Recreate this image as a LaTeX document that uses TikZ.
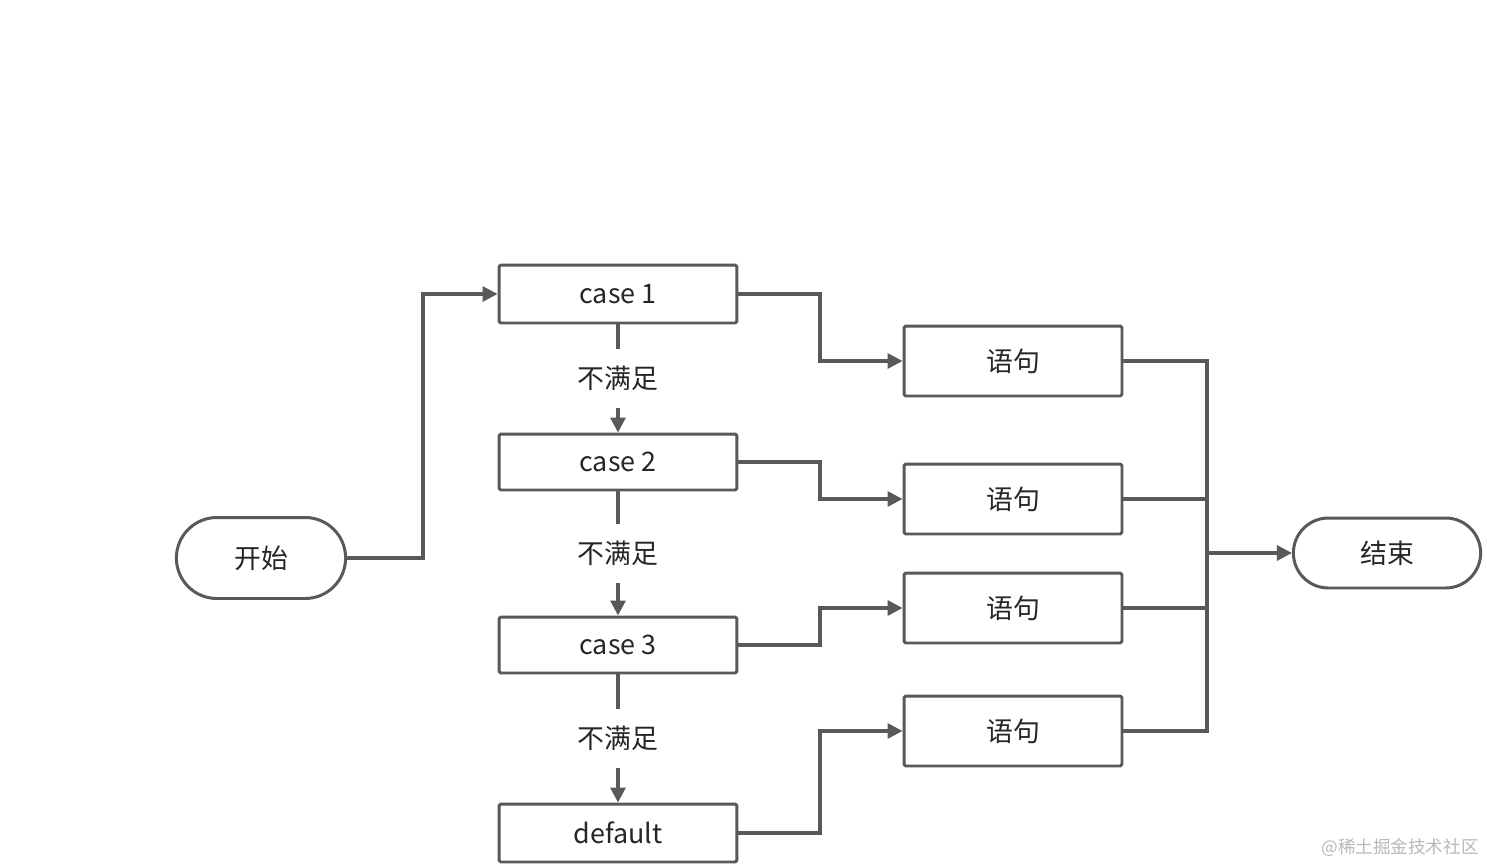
\documentclass[tikz,border=0pt]{standalone}
\usepackage{fontspec}
\setmainfont{Noto Sans CJK SC}
\usepackage{tikz}
\usetikzlibrary{arrows.meta, shapes.misc, positioning}
\definecolor{linegray}{HTML}{595959}
\definecolor{textdark}{HTML}{262626}

\begin{document}
\begin{tikzpicture}[
    x=0.02cm, y=-0.02cm,
    box/.style    = {rectangle, rounded corners=1pt, draw=linegray, line width=1.7pt,
                     fill=white, minimum width=4.76cm, text=textdark,
                     font=\fontsize{15.3}{18}\selectfont},
    stmt/.style   = {box, minimum width=4.36cm, minimum height=1.4cm},
    term/.style   = {rounded rectangle, draw=linegray, line width=1.7pt, fill=white,
                     text=textdark, font=\fontsize{15.3}{18}\selectfont},
    link/.style   = {draw=linegray, line width=1.8pt},
    arr/.style    = {link, -{Triangle[length=8.5pt, width=8.5pt]}},
    cond/.style   = {fill=white, inner xsep=2pt, inner ysep=10pt, text=textdark,
                     font=\fontsize{15.3}{18}\selectfont}
  ]

  % ── Frame ─────────────────────────────────────────────────────────────────
  \useasboundingbox[fill=white] (0,0) rectangle (1487,865);

  % ── Terminals ─────────────────────────────────────────────────────────────
  \node[term, minimum width=3.62cm, minimum height=1.62cm] (start) at (261,558) {开始};
  \node[term, minimum width=3.98cm, minimum height=1.4cm]  (end)   at (1387,553) {结束};

  % ── Cases ─────────────────────────────────────────────────────────────────
  \node[box, minimum height=1.16cm] (case1) at (618,294) {case 1};
  \node[box, minimum height=1.12cm] (case2) at (618,462) {case 2};
  \node[box, minimum height=1.12cm] (case3) at (618,645) {case 3};
  \node[box, minimum height=1.16cm] (dflt)  at (618,833) {default};

  % ── Statements ────────────────────────────────────────────────────────────
  \node[stmt] (stmt1) at (1013,361) {语句};
  \node[stmt] (stmt2) at (1013,499) {语句};
  \node[stmt] (stmt3) at (1013,608) {语句};
  \node[stmt] (stmt4) at (1013,731) {语句};

  \coordinate (fork) at (423,558);
  \coordinate (bend) at (820,558);
  \coordinate (join) at (1207,553);

  % ── Start to first case ──────────────────────────────────────────────────
  \draw[arr] (start.east) -- (fork) |- (case1.west);

  % ── Fall through ─────────────────────────────────────────────────────────
  \draw[arr] (case1.south) -- node[cond]{不满足} (case2.north);
  \draw[arr] (case2.south) -- node[cond]{不满足} (case3.north);
  \draw[arr] (case3.south) -- node[cond]{不满足} (dflt.north);

  % ── Case to statement ────────────────────────────────────────────────────
  \draw[arr] (case1.east) -- (case1.east -| bend) |- (stmt1.west);
  \draw[arr] (case2.east) -- (case2.east -| bend) |- (stmt2.west);
  \draw[arr] (case3.east) -- (case3.east -| bend) |- (stmt3.west);
  \draw[arr] (dflt.east)  -- (dflt.east -| bend)  |- (stmt4.west);

  % ── Statements to end ────────────────────────────────────────────────────
  \draw[link] (stmt1.east) -| (join);
  \draw[link] (stmt4.east) -| (join);
  \draw[link] (stmt2.east) -- (stmt2.east -| join);
  \draw[link] (stmt3.east) -- (stmt3.east -| join);
  \draw[arr] (join) -- (end.west);

  % watermark
  \node[text=gray!55, font=\fontsize{10}{12}\selectfont] (mark) at (1400,848) {@稀土掘金技术社区};

\end{tikzpicture}
\end{document}
